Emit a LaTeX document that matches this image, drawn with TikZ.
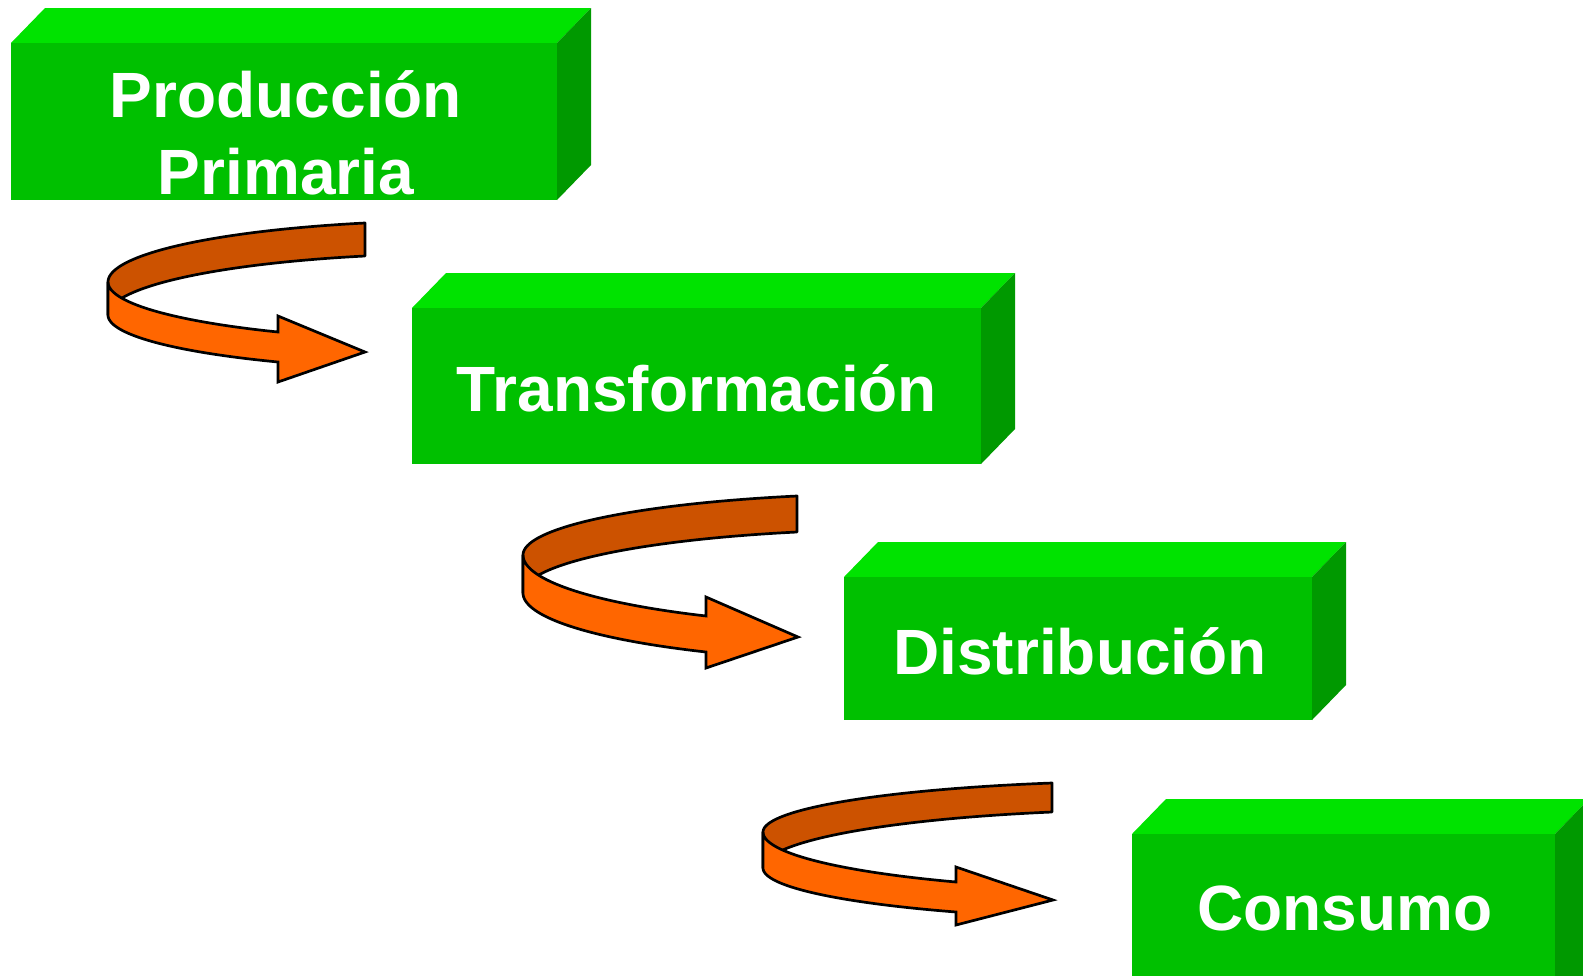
\documentclass[tikz,border=0pt]{standalone}
\usepackage{fontspec}
\setmainfont{Liberation Sans}
\definecolor{gtop}{HTML}{00E300}
\definecolor{gfront}{HTML}{00C000}
\definecolor{gside}{HTML}{009900}
\definecolor{oback}{HTML}{CC5200}
\definecolor{ofront}{HTML}{FF6600}
\tikzset{
  topface/.style={fill=gtop},
  frontface/.style={fill=gfront},
  sideface/.style={fill=gside},
  lbl/.style={text=white, font=\bfseries\fontsize{64}{77}\selectfont, inner sep=0pt, anchor=base, align=center},
  ribback/.style={fill=oback, draw=black, line width=2.7pt, line join=round},
  ribfront/.style={fill=ofront, draw=black, line width=2.7pt, line join=miter},
}
\newcommand\greenbox[4]{%
  \fill[topface] (#1,#2) -- (#3,#2) -- ({#3+34},{#2-35}) -- ({#1+34},{#2-35}) -- cycle;
  \fill[sideface] (#3,#2) -- ({#3+34},{#2-35}) -- ({#3+34},{#4-35}) -- (#3,#4) -- cycle;
  \fill[frontface] (#1,#2) rectangle (#3,#4);
}
\newcommand\ribset[9]{%
  \pgfmathsetmacro\ra{(#4-#1)/0.71}%
  \pgfmathsetmacro\rcx{#1+\ra}%
  \pgfmathsetmacro\rtR{acos((#4-\rcx)/\ra)}%
  \pgfmathsetmacro\rtS{360-acos((#7-\rcx)/\ra)}%
  \pgfmathsetmacro\rya{#2}%
  \pgfmathsetmacro\ryb{#2+#3}%
  \pgfmathsetmacro\rbA{(#2-#5)/sin(\rtR)}%
  \pgfmathsetmacro\rbB{(#2+#3-#6)/sin(\rtR)}%
  \pgfmathsetmacro\rbC{(#8-#2)/(-sin(\rtS))}%
  \pgfmathsetmacro\rbD{(#9-#2-#3)/(-sin(\rtS))}%
  \def\rS{#7}%
}
\newcommand\ribdraw[4]{%
  \draw[ribback] plot[domain=\rtR:180, samples=60] ({\rcx+\ra*cos(\x)},{\rya-\rbA*sin(\x)})
     -- plot[domain=180:\rtR, samples=60] ({\rcx+\ra*cos(\x)},{\ryb-\rbB*sin(\x)}) -- cycle;
  \draw[ribfront] plot[domain=180:\rtS, samples=60] ({\rcx+\ra*cos(\x)},{\rya-\rbC*sin(\x)})
     -- (\rS,#1) -- (#3,#4) -- (\rS,#2)
     -- plot[domain=\rtS:180, samples=60] ({\rcx+\ra*cos(\x)},{\ryb-\rbD*sin(\x)}) -- cycle;
}
\begin{document}
\begin{tikzpicture}[x=1pt, y=-1pt]
\useasboundingbox (0,0) rectangle (1583,975);
\clip (0,0) rectangle (1583,975);
\fill[white] (0,0) rectangle (1583,975);
% boxes
\greenbox{11}{43}{557}{200}
\greenbox{412}{308}{981}{464}
\greenbox{844}{577}{1312}{720}
\greenbox{1132}{834}{1555}{1030}
% labels
\node[lbl] (prod) at (286,194) {Producción\\Primaria};
\node[lbl] (trans) at (697,411) {Transformación};
\node[lbl] (dist) at (1080,674) {Distribución};
\node[lbl] (cons) at (1345,930) {Consumo};
% curved arrows
\ribset{108}{282}{33}{365}{223}{256}{278}{332}{362}
\ribdraw{316}{382}{365}{352}
\ribset{523}{555}{38}{797}{496}{532}{706}{616}{652}
\ribdraw{597}{668}{798}{637}
\ribset{763}{832}{36}{1052}{783}{812}{956}{882}{912}
\ribdraw{867}{925}{1053}{900}
\end{tikzpicture}
\end{document}
